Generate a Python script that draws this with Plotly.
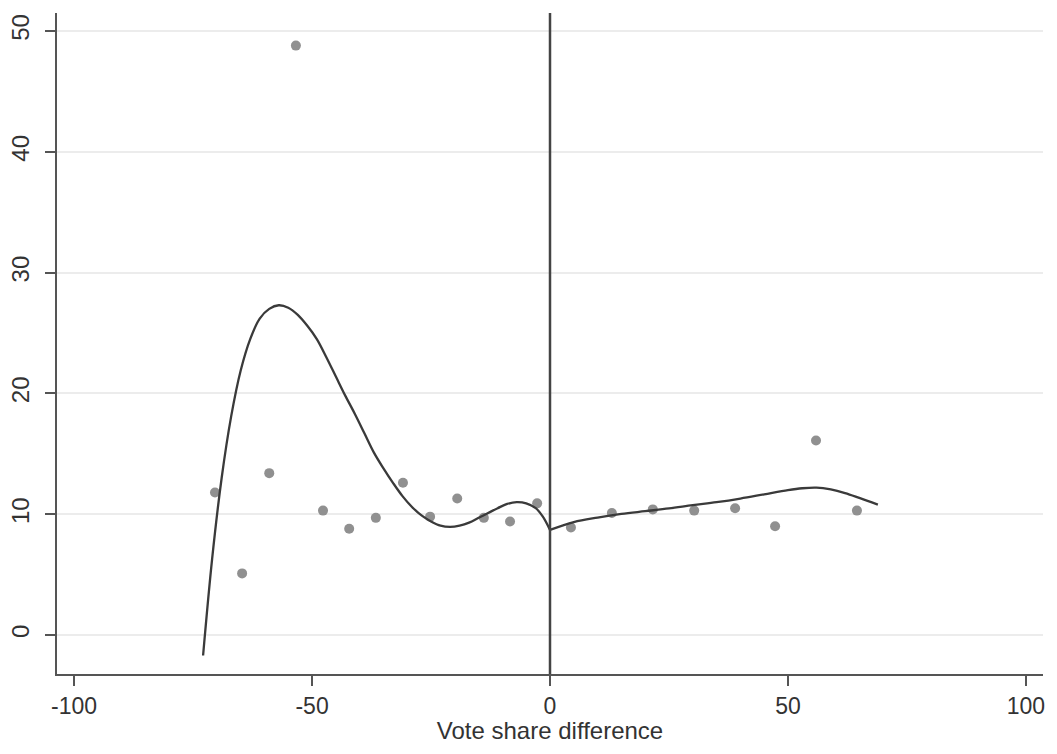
import plotly.graph_objects as go

# Binned means (scatter)
bin_x = [-70.4, -64.7, -59.0, -53.4, -47.7, -42.2, -36.6, -30.9, -25.2, -19.5, -13.9, -8.4, -2.7,
         4.4, 13.0, 21.6, 30.3, 38.9, 47.3, 55.9, 64.5]
bin_y = [11.8, 5.1, 13.4, 48.8, 10.3, 8.8, 9.7, 12.6, 9.8, 11.3, 9.7, 9.4, 10.9,
         8.9, 10.1, 10.4, 10.3, 10.5, 9.0, 16.1, 10.3]

# Polynomial fit, left of cutoff
left_fit_x = [-72.9, -71, -69, -67, -65, -63, -61, -59, -57, -55, -53, -51, -49, -47, -45,
              -43, -41, -39, -37, -35, -33, -31, -29, -27, -25, -23, -21, -19, -17, -15,
              -13, -11, -9, -7, -5, -3, -1.5, 0]
left_fit_y = [-1.7, 6.3, 13.0, 18.1, 21.9, 24.5, 26.2, 27.0, 27.3, 27.1, 26.5, 25.6, 24.5, 23.0, 21.4,
              19.8, 18.3, 16.7, 15.1, 13.8, 12.6, 11.5, 10.6, 9.9, 9.4, 9.05, 8.95, 9.05, 9.3, 9.7,
              10.1, 10.5, 10.85, 11.0, 10.9, 10.5, 9.8, 8.7]

# Polynomial fit, right of cutoff
right_fit_x = [0, 5, 10, 15, 20, 25, 30, 35, 40, 45, 50, 53, 56, 59, 62, 65, 68.9]
right_fit_y = [8.7, 9.35, 9.72, 10.02, 10.25, 10.48, 10.75, 11.0, 11.3, 11.65, 12.0, 12.15, 12.2,
               12.05, 11.75, 11.35, 10.8]

x_ticks = [-100, -50, 0, 50, 100]
y_ticks = [0, 10, 20, 30, 40, 50]
x_title = "Vote share difference"

FONT = "Liberation Sans, Arial, sans-serif"
AXIS_COLOR = "#555555"
TEXT_COLOR = "#333333"

fig = go.Figure()
fig.add_trace(go.Scatter(x=bin_x, y=bin_y, mode="markers",
                         marker=dict(color="#909090", size=10, line=dict(width=0)),
                         showlegend=False))
fig.add_trace(go.Scatter(x=left_fit_x, y=left_fit_y, mode="lines", line_shape="spline",
                         line=dict(color="#3a3a3a", width=2.3), showlegend=False))
fig.add_trace(go.Scatter(x=right_fit_x, y=right_fit_y, mode="lines", line_shape="spline",
                         line=dict(color="#3a3a3a", width=2.3), showlegend=False))

fig.add_shape(type="line", xref="x", yref="paper", x0=0, x1=0, y0=0, y1=1,
              line=dict(color="#444444", width=2.5))

# The page body keeps the browser's default 8px margin, so the figure is sized to fit inside it.
fig.update_layout(
    width=1041, height=736,
    margin=dict(l=49, r=6, t=5, b=70),
    paper_bgcolor="white", plot_bgcolor="white",
    font=dict(family=FONT, size=23, color=TEXT_COLOR),
    xaxis=dict(range=[-103.6, 103.6], tickvals=x_ticks, ticktext=[str(v) for v in x_ticks],
               automargin=False,
               showgrid=False, zeroline=False, showline=True, linecolor=AXIS_COLOR, linewidth=2,
               ticks="outside", ticklen=10, tickwidth=1.5, tickcolor=AXIS_COLOR,
               ticklabelstandoff=0,
               tickfont=dict(size=23, color=TEXT_COLOR),
               title=dict(text=x_title, font=dict(size=24, color=TEXT_COLOR), standoff=7)),
    yaxis=dict(range=[-3.23, 51.5], tickvals=y_ticks, ticktext=[str(v) for v in y_ticks],
               automargin=False,
               showgrid=True, gridcolor="#ececec", gridwidth=1.5,
               zeroline=False, showline=True, linecolor=AXIS_COLOR, linewidth=2,
               ticks="outside", ticklen=10, tickwidth=1.5, tickcolor=AXIS_COLOR,
               tickangle=-90, ticklabelstandoff=6,
               tickfont=dict(size=24, color=TEXT_COLOR)),
)

fig.write_html("out.html")
